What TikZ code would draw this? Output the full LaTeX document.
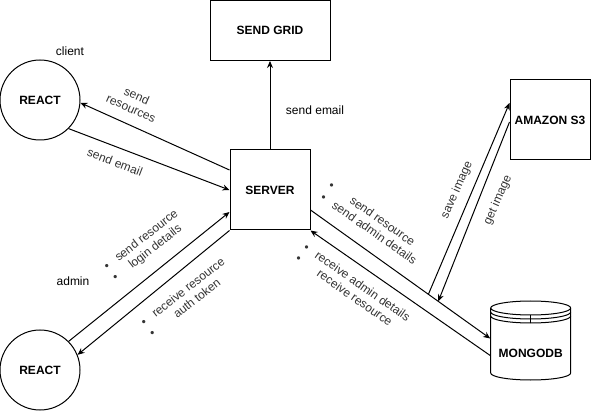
\documentclass[tikz,border=0pt]{standalone}
\usepackage{fontspec}
\setmainfont{Liberation Sans}
\usetikzlibrary{arrows.meta,calc}
\begin{document}
\begin{tikzpicture}[x=1pt, y=-1pt]
    \useasboundingbox (0,0) rectangle (591,411);
    \tikzstyle{every node}=[draw=black, line width=1pt, inner sep=0pt, font=\fontsize{12}{14}\selectfont\bfseries, text=black]
    \tikzstyle{edge}=[black, line width=1pt, -{Stealth[length=7pt, width=6pt]}]

    \node[circle, minimum size=80pt] (client) at (40,100) {REACT};
    \node[circle, minimum size=80pt] (admin) at (40,370) {REACT};
    \node[rectangle, minimum width=80pt, minimum height=80pt] (server) at (270,190) {SERVER};
    \node[rectangle, minimum width=120pt, minimum height=60pt] (sendgrid) at (270,30.5) {SEND GRID};
    \node[rectangle, minimum width=80pt, minimum height=80pt] (amazon) at (550,120) {AMAZON S3};
    \node[draw=none, minimum width=80pt, minimum height=79pt] (mongo) at (530.7,340.5) {};
    \node[draw=none] (mongotext) at (530.7,353) {MONGODB};

    % datastore
    \draw[line width=1pt] (490.7,308) -- (490.7,373) arc[start angle=180, end angle=360, x radius=40pt, y radius=7pt] -- (570.7,308) arc[start angle=0, end angle=180, x radius=40pt, y radius=7pt] -- cycle;
    \foreach \dy in {0,4,8}
        \draw[line width=1pt] (490.7,308+\dy) arc[start angle=180, end angle=360, x radius=40pt, y radius=7pt];
    \draw[line width=0.5pt] (530.7,315) -- (530.7,323);

    \draw[edge] ([yshift=20pt]server.west) -- (client.-4);
    \draw[edge] (client.-45) -- (server.west);
    \draw[edge] (server.north) -- (sendgrid.south);
    \draw[edge] (admin.45) -- ([yshift=-22pt]server.west);
    \draw[edge] (server.south west) -- (admin.22);
    \draw[edge] ([yshift=-20pt]server.east) -- ([yshift=2pt]mongo.west);
    \draw[edge] ([yshift=-15pt]mongo.west) -- (server.south east);

    \coordinate (saveout) at ($([yshift=-20pt]server.east)!0.656!([yshift=2pt]mongo.west)$);
    \coordinate (getin) at ($([yshift=-20pt]server.east)!0.711!([yshift=2pt]mongo.west)$);
    \draw[edge] (saveout) -- ([yshift=17pt]amazon.west);
    \draw[edge] ([yshift=-2pt]amazon.west) -- (getin);

    \tikzstyle{every node}=[draw=none, inner sep=0pt, font=\fontsize{12}{14}\selectfont, text=black]
    \node (clienttext) at (70,51) {client};
    \node (admintext) at (73,281) {admin};
    \node (mailtext) at (315,110) {send email};

    \tikzstyle{every node}=[draw=none, inner sep=0pt, font=\fontsize{12}{14}\selectfont, text=black!80, align=center]
    \node[rotate=-24] (resourcestext) at (134,102) {send\\resources};
    \node[rotate=-21] (emailtext) at (115,162) {send email};
    \node[rotate=66] (savetext) at (457,190) {save image};
    \node[rotate=66] (gettext) at (498,200) {get image};

    \node[rotate=38, anchor=west] (logintext) at (110,274) {\begin{tabular}{@{}l@{\hspace{10pt}}c@{}}\textbullet & send resource\\ \textbullet & login details\end{tabular}};
    \node[rotate=38, anchor=west] (tokentext) at (147,330) {\begin{tabular}{@{}l@{\hspace{10pt}}c@{}}\textbullet & receive resource\\ \textbullet & auth token\end{tabular}};
    \node[rotate=-35, anchor=west] (detailstext) at (325,191) {\begin{tabular}{@{}l@{\hspace{10pt}}c@{}}\textbullet & send resource\\ \textbullet & send admin details\end{tabular}};
    \node[rotate=-35, anchor=west] (receivetext) at (300,252.5) {\begin{tabular}{@{}l@{\hspace{10pt}}c@{}}\textbullet & receive admin details\\ \textbullet & receive resource\end{tabular}};
\end{tikzpicture}
\end{document}
